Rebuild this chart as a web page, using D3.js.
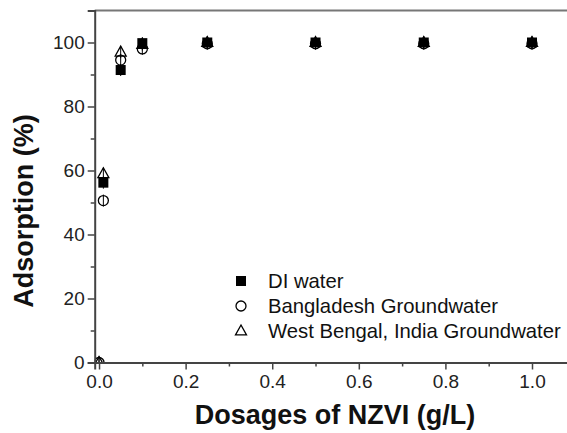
<!DOCTYPE html>
<html><head><meta charset="utf-8">
<script src="https://cdn.jsdelivr.net/npm/d3@7"></script>
<style>
html,body{margin:0;padding:0;background:#fff;}
svg{display:block;}
text{font-family:"Liberation Sans",Arial,sans-serif;}
</style></head>
<body>
<svg id="chart" width="567" height="433"></svg>
<script>
const dosage = [0, 0.01, 0.05, 0.1, 0.25, 0.5, 0.75, 1.0];
const diWater = [null, 56.2, 91.4, 99.8, 100, 100, 100, 100];
const bangladesh = [0, 50.6, 94.5, 98.0, 99.6, 99.6, 99.6, 99.6];
const westBengal = [0, 59.0, 97.0, 99.4, 100, 100, 100, 100];
const seriesNames = ["DI water", "Bangladesh Groundwater", "West Bengal, India Groundwater"];
const xTicks = [0, 0.2, 0.4, 0.6, 0.8, 1.0];
const yTicks = [0, 20, 40, 60, 80, 100];
const xMinor = [0.1, 0.3, 0.5, 0.7, 0.9];
const yMinor = [10, 30, 50, 70, 90];

const svg = d3.select("#chart");
const x = d3.scaleLinear().domain([-0.01, 1.1]).range([94.7, 575.3]);
const y = d3.scaleLinear().domain([0, 110]).range([362.5, 10.5]);
const axisColor = "#444";

svg.append("defs").append("clipPath").attr("id", "plotclip").append("rect")
  .attr("x", x(-0.01)).attr("y", y(110)).attr("width", 600).attr("height", y(0) - y(110));

// top frame line
svg.append("line").attr("x1", x(-0.01)).attr("x2", 567).attr("y1", y(110)).attr("y2", y(110))
  .attr("stroke", "#777").attr("stroke-width", 2);

// markers
const sq = 10, cr = 5, tri = 11;
function drawMarker(g, type, cx, cy) {
  if (type === 0) {
    g.append("rect").attr("x", cx - sq / 2).attr("y", cy - sq / 2).attr("width", sq).attr("height", sq).attr("fill", "#000");
  } else if (type === 1) {
    g.append("circle").attr("cx", cx).attr("cy", cy).attr("r", cr).attr("fill", "none").attr("stroke", "#000").attr("stroke-width", 1.3);
  } else {
    const h = tri * 0.9;
    g.append("path").attr("d", `M${cx},${cy - h / 2 - 1}L${cx + tri / 2},${cy + h / 2 - 1}L${cx - tri / 2},${cy + h / 2 - 1}Z`)
      .attr("fill", "none").attr("stroke", "#000").attr("stroke-width", 1.3);
  }
}
const series = [diWater, bangladesh, westBengal];
const pts = svg.append("g").attr("clip-path", "url(#plotclip)");
[2, 1, 0].forEach(si => {
  series[si].forEach((v, i) => {
    if (v === null) return;
    const cx = x(dosage[i]), cy = y(v);
    pts.append("line").attr("x1", cx).attr("x2", cx).attr("y1", cy - 6).attr("y2", cy + 6)
      .attr("stroke", "#000").attr("stroke-width", 1);
    drawMarker(pts, si, cx, cy);
  });
});

// Y axis
svg.append("g").attr("transform", `translate(${x(-0.01)},0)`)
  .call(d3.axisLeft(y).tickValues(yTicks).tickFormat(d3.format("d")).tickSize(7).tickPadding(3));
svg.append("g").attr("transform", `translate(${x(-0.01)},0)`)
  .call(d3.axisLeft(y).tickValues(yMinor).tickFormat("").tickSize(4))
  .select(".domain").remove();
// X axis
svg.append("g").attr("transform", `translate(0,${y(0)})`)
  .call(d3.axisBottom(x).tickValues(xTicks).tickFormat(d3.format(".1f")).tickSize(7).tickPadding(5));
svg.append("g").attr("transform", `translate(0,${y(0)})`)
  .call(d3.axisBottom(x).tickValues(xMinor).tickFormat("").tickSize(4))
  .select(".domain").remove();

svg.selectAll(".domain").attr("stroke", axisColor).attr("stroke-width", 2);
svg.selectAll(".tick line").attr("stroke", axisColor).attr("stroke-width", 1.5);
svg.selectAll(".tick text").attr("font-size", 19).attr("fill", "#222")
  .attr("font-family", "'Liberation Sans',Arial,sans-serif");

// axis titles
svg.append("text").attr("x", 335).attr("y", 424).attr("text-anchor", "middle")
  .attr("font-size", 27).attr("font-weight", "bold").attr("fill", "#111").text("Dosages of NZVI (g/L)");
svg.append("text").attr("transform", "translate(33,211) rotate(-90)").attr("text-anchor", "middle")
  .attr("font-size", 27).attr("font-weight", "bold").attr("fill", "#111").text("Adsorption (%)");

// legend
const leg = svg.append("g");
const legY = [281, 306, 331];
seriesNames.forEach((name, i) => {
  drawMarker(leg, i, 241, legY[i]);
  leg.append("text").attr("x", 268).attr("y", legY[i] + 7).attr("font-size", 20.3).attr("fill", "#111").text(name);
});
</script>
</body></html>
